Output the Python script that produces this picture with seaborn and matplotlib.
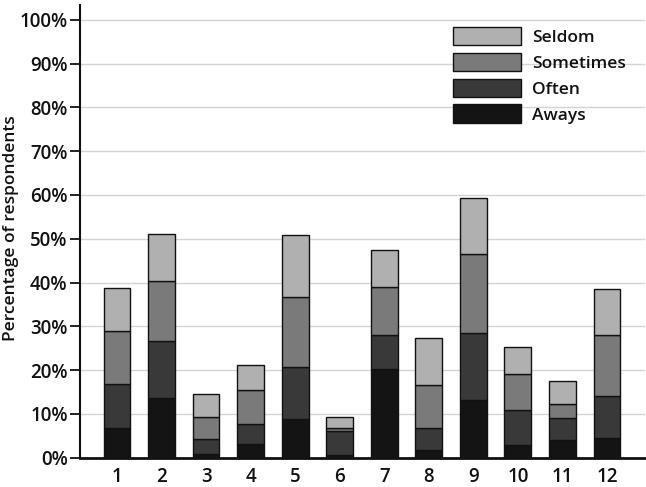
import matplotlib
matplotlib.use("Agg")
import matplotlib.pyplot as plt
import seaborn as sns
import numpy as np

categories = ["1", "2", "3", "4", "5", "6", "7", "8", "9", "10", "11", "12"]
always    = [6.8, 13.7, 0.9, 3.2, 8.8, 0.6, 20.2, 1.7, 13.1, 3.0, 4.0, 4.5]
often     = [10.1, 13.0, 3.3, 4.6, 12.0, 5.4, 7.8, 5.1, 15.5, 7.8, 5.0, 9.5]
sometimes = [12.0, 13.7, 5.2, 7.7, 16.0, 0.8, 11.1, 9.8, 17.9, 8.4, 3.2, 14.0]
seldom    = [9.8, 10.7, 5.1, 5.6, 14.0, 2.5, 8.4, 10.7, 12.8, 6.2, 5.3, 10.5]
series_names = ["Aways", "Often", "Sometimes", "Seldom"]
series_vals = [always, often, sometimes, seldom]
colors = ["#141414", "#393939", "#7a7a7a", "#b0b0b0"]

sns.set_style("white")
plt.rcParams["font.family"] = ["Open Sans", "DejaVu Sans"]
plt.rcParams["font.weight"] = "semibold"
plt.rcParams["text.color"] = "#111111"
plt.rcParams["axes.labelcolor"] = "#111111"
plt.rcParams["xtick.color"] = "#111111"
plt.rcParams["ytick.color"] = "#111111"

fig = plt.figure(figsize=(6.46, 4.87), dpi=100)
ax = fig.add_axes([0.124, 0.060, 0.874, 0.93])

bottom = np.zeros(len(categories))
for name, vals, col in zip(series_names, series_vals, colors):
    sns.barplot(x=categories, y=vals, bottom=bottom, color=col, saturation=1,
                edgecolor="#111111", linewidth=1.0, width=0.6, label=name,
                ax=ax, zorder=3)
    bottom = bottom + np.array(vals)

ax.set_ylim(0, 103.4)
ax.set_xlim(-0.83, 11.85)
ax.set_yticks(np.arange(0, 101, 10))
ax.set_yticklabels([f"{v}%" for v in range(0, 101, 10)])
ax.yaxis.grid(True, color="#d4d4d4", linewidth=1.0, zorder=0)
ax.set_axisbelow(True)
ax.set_ylabel("Percentage of respondents", fontsize=12.5, fontweight="semibold")
ax.yaxis.set_label_coords(-0.108, 0.507)
ax.set_xlabel("")

for s in ["top", "right"]:
    ax.spines[s].set_visible(False)
ax.spines["left"].set_color("#111111")
ax.spines["left"].set_linewidth(1.5)
ax.spines["bottom"].set_color("#111111")
ax.spines["bottom"].set_linewidth(2.0)

ax.tick_params(axis="y", which="both", left=True, length=7, width=1.3,
               color="#111111", labelsize=13.5, pad=2)
ax.tick_params(axis="x", bottom=False, labelsize=13.5, pad=3)

handles, labels = ax.get_legend_handles_labels()
leg = ax.legend(handles[::-1], labels[::-1], loc="upper right",
                bbox_to_anchor=(0.985, 0.975), frameon=False,
                prop={"size": 12.5, "weight": "semibold"},
                handlelength=3.9, handleheight=1.25, labelspacing=0.4,
                handletextpad=0.65, borderaxespad=0.2)

fig.savefig("out.png", dpi=100)
